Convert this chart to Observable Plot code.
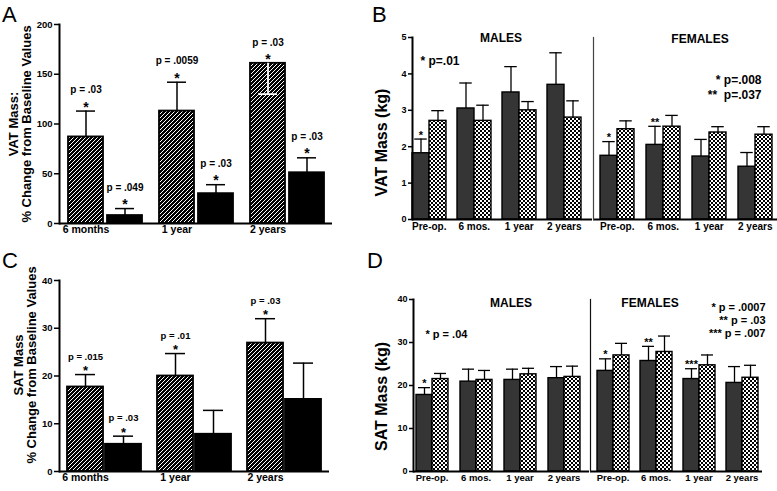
<!DOCTYPE html>
<html>
<head>
<meta charset="utf-8">
<script src="https://cdn.jsdelivr.net/npm/d3@7"></script>
<script src="https://cdn.jsdelivr.net/npm/@observablehq/plot@0.6"></script>
<style>
  body { margin: 0; background: #fff; }
  #fig { position: relative; width: 777px; height: 491px; overflow: hidden; background: #fff;
         font-family: "Liberation Sans", Arial, sans-serif; }
  #fig > svg.layer { position: absolute; left: 0; top: 0; }
  .letter { position: absolute; font-size: 22px; line-height: 1; font-weight: normal; color: #000; }
</style>
</head>
<body>
<div id="fig">
  <svg width="0" height="0" style="position:absolute">
    <defs>
      <pattern id="hatch" patternUnits="userSpaceOnUse" width="4" height="4">
        <rect width="4" height="4" fill="#fff"/>
        <path d="M-1,1 L1,-1 M0,4 L4,0 M3,5 L5,3" stroke="#000" stroke-width="1.6" shape-rendering="crispEdges"/>
      </pattern>
      <pattern id="checker" patternUnits="userSpaceOnUse" width="4" height="4">
        <rect width="4" height="4" fill="#fff"/>
        <rect width="2" height="2" fill="#000"/>
        <rect x="2" y="2" width="2" height="2" fill="#000"/>
      </pattern>
    </defs>
  </svg>
  <div class="letter" style="left:2px;top:4px">A</div>
  <div class="letter" style="left:372px;top:4px">B</div>
  <div class="letter" style="left:2px;top:250px">C</div>
  <div class="letter" style="left:367px;top:250px">D</div>
</div>
<script>
// ---------------- data ----------------
const periods = ["6 months", "1 year", "2 years"];
const seriesPct = ["hatched", "solid"];

// Panel A: VAT mass, % change from baseline
const vatPctHatched = [87, 113, 161];
const vatPctHatchedErr = [113, 142, 130];
const vatPctHatchedP = ["p = .03", "p = .0059", "p = .03"];
const vatPctHatchedStar = ["*", "*", "*"];
const vatPctSolid = [8, 30, 51];
const vatPctSolidErr = [15, 39, 66];
const vatPctSolidP = ["p = .049", "p = .03", "p = .03"];
const vatPctSolidStar = ["*", "*", "*"];
const vatPctTicks = [0, 50, 100, 150, 200];

// Panel C: SAT mass, % change from baseline
const satPctHatched = [17.7, 20.0, 26.9];
const satPctHatchedErr = [20.3, 24.7, 32.0];
const satPctHatchedP = ["p = .015", "p = .01", "p = .03"];
const satPctHatchedStar = ["*", "*", "*"];
const satPctSolid = [5.7, 7.8, 15.1];
const satPctSolidErr = [7.4, 12.8, 22.7];
const satPctSolidP = ["p = .03", "", ""];
const satPctSolidStar = ["*", "", ""];
const satPctTicks = [0, 10, 20, 30, 40];

// Panels B and D
const times = ["Pre-op.", "6 mos.", "1 year", "2 years"];
const seriesKg = ["dark", "check"];

const vatMaleDark = [1.82, 3.05, 3.49, 3.70];
const vatMaleDarkErr = [2.21, 3.75, 4.20, 4.58];
const vatMaleCheck = [2.71, 2.71, 3.00, 2.80];
const vatMaleCheckErr = [2.99, 3.14, 3.24, 3.26];
const vatMaleStars = ["*", "", "", ""];
const vatFemaleDark = [1.75, 2.05, 1.73, 1.45];
const vatFemaleDarkErr = [2.14, 2.56, 2.20, 1.84];
const vatFemaleCheck = [2.48, 2.55, 2.39, 2.33];
const vatFemaleCheckErr = [2.71, 2.86, 2.55, 2.55];
const vatFemaleStars = ["*", "**", "", ""];
const vatKgTicks = [0, 1, 2, 3, 4, 5];

const satMaleDark = [17.8, 20.9, 21.3, 21.7];
const satMaleDarkErr = [19.5, 23.8, 23.8, 24.4];
const satMaleCheck = [21.5, 21.3, 22.6, 22.0];
const satMaleCheckErr = [22.8, 23.5, 24.0, 24.5];
const satMaleStars = ["*", "", "", ""];
const satFemaleDark = [23.4, 25.7, 21.5, 20.6];
const satFemaleDarkErr = [26.2, 29.1, 23.9, 24.4];
const satFemaleCheck = [27.0, 27.8, 24.7, 21.8];
const satFemaleCheckErr = [29.8, 31.5, 27.1, 24.7];
const satFemaleStars = ["*", "**", "***", ""];
const satKgTicks = [0, 10, 20, 30, 40];

// ---------------- drawing ----------------
const W = 777, H = 491;
const fig = document.getElementById("fig");
const svgStyle = "background:none;overflow:visible;font-family:'Liberation Sans',Arial,sans-serif;font-weight:bold;color:#000;";
const intFormat = d3.format("d");

function layer(options) {
  const svg = Plot.plot({width: W, height: H, style: svgStyle, ...options});
  svg.classList.add("layer");
  fig.appendChild(svg);
  return svg;
}

function pctRows(hV, hE, hP, hS, sV, sE, sP, sS) {
  return periods.flatMap((p, i) => [
    {period: p, series: seriesPct[0], value: hV[i], err: hE[i], pval: hP[i], star: hS[i]},
    {period: p, series: seriesPct[1], value: sV[i], err: sE[i], pval: sP[i], star: sS[i]}
  ]);
}

function changePanel(cfg) {
  const [x0, x1, y0, y1] = cfg.frame;
  const rows = cfg.rows;
  const up = rows.filter(d => d.err >= d.value);
  const down = rows.filter(d => d.err < d.value);
  const top = d => Math.max(d.value, d.err);
  const pos = {fx: "period", x: "series"};
  return layer({
    marginLeft: x0, marginRight: W - x1, marginTop: y0, marginBottom: H - y1,
    fx: {domain: periods, padding: 0, axis: null},
    x: {domain: seriesPct, paddingInner: cfg.pi, paddingOuter: cfg.po, align: cfg.align, axis: null},
    y: {domain: cfg.yDomain, axis: null},
    marks: [
      Plot.barY(rows.filter(d => d.series === seriesPct[0]), {...pos, y: "value", fill: "url(#hatch)", stroke: "black", strokeWidth: 1.8}),
      Plot.barY(rows.filter(d => d.series === seriesPct[1]), {...pos, y: "value", fill: "black", stroke: "black", strokeWidth: 1.8}),
      Plot.ruleX(up, {...pos, y1: "value", y2: "err", stroke: "black", strokeWidth: 1.5}),
      Plot.tickY(up, {...pos, y: "err", stroke: "black", strokeWidth: 1.5, insetLeft: cfg.capInset, insetRight: cfg.capInset}),
      Plot.ruleX(down, {...pos, y1: "value", y2: "err", stroke: "white", strokeWidth: 1.8}),
      Plot.tickY(down, {...pos, y: "err", stroke: "white", strokeWidth: 1.8, insetLeft: cfg.capInset, insetRight: cfg.capInset}),
      Plot.text(rows.filter(d => d.star), {...pos, y: top, text: "star", fontSize: cfg.starSize, lineAnchor: "middle", dy: cfg.starDy}),
      Plot.text(rows.filter(d => d.pval), {...pos, y: top, text: "pval", fontSize: cfg.pSize, lineAnchor: "middle", dy: cfg.pDy}),
      Plot.ruleY([0], {strokeWidth: 2}),
      Plot.frame({anchor: "left", facetAnchor: "left", strokeWidth: 2}),
      Plot.axisY({ticks: cfg.yTicks, tickFormat: intFormat, tickSize: 5, tickPadding: 2, fontSize: 9.5, strokeWidth: 1.5, label: null}),
      Plot.text(periods.map(p => ({period: p, series: seriesPct[0]})),
        {...pos, text: "period", frameAnchor: "bottom", lineAnchor: "top", dy: 2, fontSize: 10.5}),
      Plot.text([cfg.yLabel], {facet: "super", text: d => d, frameAnchor: "left", rotate: -90,
        lineAnchor: "top", textAnchor: "middle", dx: cfg.labelDx, dy: cfg.labelDy, fontSize: 13, lineHeight: 1})
    ]
  });
}

function sexPanel(cfg) {
  const [x0, x1, y0, y1] = cfg.frame;
  const rows = times.flatMap((t, i) => [
    {time: t, series: seriesKg[0], value: cfg.dark[i], err: cfg.darkErr[i], star: cfg.stars[i]},
    {time: t, series: seriesKg[1], value: cfg.check[i], err: cfg.checkErr[i], star: ""}
  ]);
  const pos = {fx: "time", x: "series"};
  const marks = [
    Plot.barY(rows.filter(d => d.series === seriesKg[0]), {...pos, y: "value", fill: "#353535", stroke: "black", strokeWidth: 1.4}),
    Plot.barY(rows.filter(d => d.series === seriesKg[1]), {...pos, y: "value", fill: "url(#checker)", stroke: "black", strokeWidth: 1.4}),
    Plot.ruleX(rows, {...pos, y1: "value", y2: "err", stroke: "black", strokeWidth: 1.3}),
    Plot.tickY(rows, {...pos, y: "err", stroke: "black", strokeWidth: 1.3, insetLeft: cfg.capInset, insetRight: cfg.capInset}),
    Plot.text(rows.filter(d => d.star), {...pos, y: "err", text: "star", fontSize: 11, lineAnchor: "middle", dy: -4}),
    Plot.ruleY([0], {strokeWidth: 2}),
    Plot.frame({anchor: "left", facetAnchor: "left", stroke: cfg.axisColor, strokeWidth: cfg.axisWidth}),
    Plot.text(times.map(t => ({time: t, series: seriesKg[1]})),
      {...pos, text: "time", frameAnchor: "bottom", lineAnchor: "top", dy: 3, dx: cfg.labelShift, fontSize: cfg.xFont}),
    Plot.text([cfg.title], {facet: "super", text: d => d, frameAnchor: "top", lineAnchor: "middle", dx: cfg.titleDx, dy: cfg.titleDy, fontSize: 12}),
    Plot.text([cfg.note], {facet: "super", text: d => d, frameAnchor: cfg.noteAnchor, textAnchor: cfg.noteAlign,
      lineAnchor: "middle", dx: cfg.noteDx, dy: cfg.noteDy, fontSize: cfg.noteSize, lineHeight: cfg.noteLine})
  ];
  if (cfg.yTicks) {
    marks.push(Plot.axisY({ticks: cfg.yTicks, tickFormat: intFormat, tickSize: 4, tickPadding: 2, fontSize: 9, strokeWidth: 1.5, label: null}));
    marks.push(Plot.text([cfg.yLabel], {facet: "super", text: d => d, frameAnchor: "left", rotate: -90,
      lineAnchor: "middle", textAnchor: "middle", dx: cfg.labelDx, dy: cfg.labelDy, fontSize: 16}));
  }
  return layer({
    marginLeft: x0, marginRight: W - x1, marginTop: y0, marginBottom: H - y1,
    fx: {domain: times, padding: 0, axis: null},
    x: {domain: seriesKg, paddingInner: 0, paddingOuter: cfg.po, align: cfg.align, axis: null},
    y: {domain: cfg.yDomain, axis: null},
    marks
  });
}

// Panel A
changePanel({
  frame: [58, 333, 24, 223], yDomain: [0, 200], yTicks: vatPctTicks,
  rows: pctRows(vatPctHatched, vatPctHatchedErr, vatPctHatchedP, vatPctHatchedStar,
                vatPctSolid, vatPctSolidErr, vatPctSolidP, vatPctSolidStar),
  pi: 0.1, po: 0.196, align: 0.55, capInset: 8,
  starSize: 14, starDy: -4, pSize: 10, pDy: -21,
  yLabel: "VAT Mass:\n% Change from Baseline Values", labelDx: -51, labelDy: 0
});

// Panel C
changePanel({
  frame: [58, 330, 280, 471], yDomain: [0, 40], yTicks: satPctTicks,
  rows: pctRows(satPctHatched, satPctHatchedErr, satPctHatchedP, satPctHatchedStar,
                satPctSolid, satPctSolidErr, satPctSolidP, satPctSolidStar),
  pi: 0.065, po: 0.21, align: 0.51, capInset: 8,
  starSize: 13, starDy: -3.5, pSize: 9.5, pDy: -18,
  yLabel: "SAT Mass\n% Change from Baseline Values", labelDx: -46, labelDy: -11
});

// Panel B
sexPanel({
  frame: [411, 592, 37, 219], yDomain: [0, 5], yTicks: vatKgTicks, yLabel: "VAT Mass (kg)", labelDx: -31, labelDy: 14,
  dark: vatMaleDark, darkErr: vatMaleDarkErr, check: vatMaleCheck, checkErr: vatMaleCheckErr, stars: vatMaleStars,
  po: 0.293, align: 0.02, capInset: 2.25, labelShift: -8.75, xFont: 10, axisColor: "#000", axisWidth: 2,
  title: "MALES", titleDx: -1.5, titleDy: 1,
  note: "* p=.01", noteAnchor: "top-left", noteAlign: "start", noteDx: 8, noteDy: 23, noteSize: 12, noteLine: 1.25
});
sexPanel({
  frame: [592, 777, 37, 219], yDomain: [0, 5],
  dark: vatFemaleDark, darkErr: vatFemaleDarkErr, check: vatFemaleCheck, checkErr: vatFemaleCheckErr, stars: vatFemaleStars,
  po: 0.32, align: 0.61, capInset: 2.25, labelShift: -8.75, xFont: 10, axisColor: "#444", axisWidth: 1.2,
  title: "FEMALES", titleDx: 14.5, titleDy: 2,
  note: "* p=.008\n**  p=.037", noteAnchor: "top-right", noteAlign: "end", noteDx: -16, noteDy: 49.5, noteSize: 12, noteLine: 1.25
});

// Panel D
sexPanel({
  frame: [412, 589, 299, 471], yDomain: [0, 40], yTicks: satKgTicks, yLabel: "SAT Mass (kg)", labelDx: -32, labelDy: 11,
  dark: satMaleDark, darkErr: satMaleDarkErr, check: satMaleCheck, checkErr: satMaleCheckErr, stars: satMaleStars,
  po: 0.30, align: 0.25, capInset: 2, labelShift: -8.5, xFont: 9.5, axisColor: "#000", axisWidth: 2,
  title: "MALES", titleDx: 9.5, titleDy: 4,
  note: "* p = .04", noteAnchor: "top-left", noteAlign: "start", noteDx: 12, noteDy: 34, noteSize: 11, noteLine: 1.14
});
sexPanel({
  frame: [589, 762, 299, 471], yDomain: [0, 40],
  dark: satFemaleDark, darkErr: satFemaleDarkErr, check: satFemaleCheck, checkErr: satFemaleCheckErr, stars: satFemaleStars,
  po: 0.27, align: 0.64, capInset: 2, labelShift: -8.5, xFont: 9.5, axisColor: "#111", axisWidth: 1.2,
  title: "FEMALES", titleDx: -26.5, titleDy: 4,
  note: "* p = .0007\n** p = .03\n*** p = .007", noteAnchor: "top-right", noteAlign: "end", noteDx: 3, noteDy: 20.5, noteSize: 11, noteLine: 1.14
});
</script>
</body>
</html>
